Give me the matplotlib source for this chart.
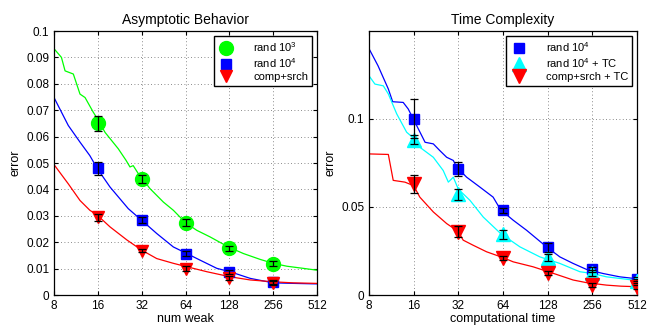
import numpy as np
import matplotlib
matplotlib.use('Agg')
import matplotlib.pyplot as plt

plt.rcParams['font.family'] = ['Liberation Sans', 'DejaVu Sans']
plt.rcParams['mathtext.fontset'] = 'custom'
plt.rcParams['mathtext.rm'] = 'Liberation Sans'
plt.rcParams['mathtext.it'] = 'Liberation Sans'

# ---- left panel: error vs number of weak learners ----
l_green_x = [8, 9.0, 9.53, 10.86, 12.07, 13.07, 14.9, 16, 17.93, 22.1, 25.0, 26.6,
             28.0, 30.4, 32, 36.5, 45.1, 52.8, 64, 76.5, 94.4, 126, 160, 208, 256,
             318, 411, 512]
l_green_y = [0.0933, 0.0900, 0.0849, 0.0837, 0.0761, 0.0748, 0.0692, 0.0665, 0.0616,
             0.0554, 0.0510, 0.0485, 0.0490, 0.0459, 0.0444, 0.0403, 0.0352, 0.0321,
             0.0274, 0.0245, 0.0220, 0.0182, 0.0157, 0.0135, 0.0120, 0.0109, 0.0101,
             0.0094]
l_blue_x = [8, 10.03, 12.07, 14.1, 15.9, 19.4, 25.9, 32, 40.6, 52.8, 65.4, 80.6,
            105, 129.6, 178, 256, 351, 512]
l_blue_y = [0.0748, 0.0642, 0.0579, 0.0528, 0.0478, 0.0409, 0.0327, 0.0283, 0.0233,
            0.0182, 0.0157, 0.0132, 0.0101, 0.0088, 0.0063, 0.0046, 0.0044, 0.0042]
l_red_x = [8, 10.03, 12.07, 14.1, 15.9, 19.4, 25.4, 32, 40.6, 52.8, 65.4, 90,
           129.6, 178, 256, 351, 512]
l_red_y = [0.0494, 0.0421, 0.0358, 0.0321, 0.0302, 0.0258, 0.0208, 0.0170, 0.0138,
           0.0120, 0.0107, 0.0088, 0.0069, 0.0057, 0.0050, 0.0046, 0.0044]

l_mark_x = [16, 32, 64, 128, 256]
l_green_m = [0.065, 0.044, 0.0273, 0.0177, 0.0118]
l_green_e = [0.0028, 0.0015, 0.0013, 0.0009, 0.0009]
l_blue_m = [0.048, 0.0285, 0.0157, 0.0087, 0.0050]
l_blue_e = [0.0025, 0.0012, 0.0010, 0.0009, 0.0008]
l_red_m = [0.0295, 0.0168, 0.0100, 0.0063, 0.0045]
l_red_e = [0.0013, 0.0007, 0.0008, 0.0008, 0.0008]

# ---- right panel: error vs computational time ----
r_blue_x = [8, 9.2, 10.8, 11.55, 13.6, 14.7, 17.2, 19.1, 21.7, 24.0, 26.7, 29.6,
            31.2, 36.4, 44.7, 54.9, 61.6, 75, 92.3, 125.8, 154.7, 190, 234, 302,
            392, 512]
r_blue_y = [0.1397, 0.1300, 0.1168, 0.1096, 0.1092, 0.1055, 0.0942, 0.0866, 0.0857,
            0.0819, 0.0781, 0.0763, 0.0725, 0.0668, 0.0612, 0.0555, 0.0484, 0.0424,
            0.0367, 0.0273, 0.0216, 0.0179, 0.0145, 0.0122, 0.0103, 0.0092]
r_cyan_x = [8, 8.77, 9.99, 10.8, 12.3, 14.35, 16, 17.6, 21.7, 25.3, 27.4, 29.6,
            32, 38.3, 47.1, 61.6, 83.2, 113.5, 154.7, 210.9, 256, 319, 512]
r_cyan_y = [0.1243, 0.1196, 0.1186, 0.1140, 0.1027, 0.0923, 0.0889, 0.0838, 0.0781,
            0.0706, 0.0640, 0.0668, 0.0600, 0.0537, 0.0442, 0.0349, 0.0273, 0.0216,
            0.0179, 0.0132, 0.0122, 0.0103, 0.0082]
r_red_x = [8, 10.8, 11.65, 13.97, 16, 17.6, 21.7, 26.7, 32, 34.5, 40.3, 49.6,
           64, 75, 102, 139.4, 190, 234, 319, 400, 512]
r_red_y = [0.0800, 0.0797, 0.0650, 0.0640, 0.0620, 0.0555, 0.0471, 0.0405, 0.0360,
           0.0311, 0.0282, 0.0245, 0.0212, 0.0188, 0.0160, 0.0123, 0.0085, 0.0070,
           0.0056, 0.0050, 0.0047]

r_mark_x = [16, 32, 64, 128, 256, 512]
r_blue_m = [0.100, 0.0715, 0.048, 0.027, 0.0145, 0.0092]
r_blue_e = [0.011, 0.004, 0.0015, 0.0025, 0.0015, 0.001]
r_cyan_m = [0.088, 0.057, 0.0345, 0.021, 0.0125, 0.008]
r_cyan_e = [0.0025, 0.003, 0.0025, 0.002, 0.0015, 0.001]
r_red_m = [0.063, 0.036, 0.021, 0.0125, 0.0058, 0.0045]
r_red_e = [0.005, 0.003, 0.001, 0.001, 0.001, 0.001]

xticks = [8, 16, 32, 64, 128, 256, 512]

fig = plt.figure(figsize=(6.49, 3.26), dpi=100)
ax1 = fig.add_axes([54 / 649, 31 / 326, 263 / 649, 264 / 326])
ax2 = fig.add_axes([369 / 649, 31 / 326, 268 / 649, 264 / 326])


def style(ax):
    ax.set_xscale('log', base=2)
    ax.set_xlim(8, 512)
    ax.set_xticks(xticks)
    ax.set_xticklabels([str(t) for t in xticks])
    ax.minorticks_off()
    ax.grid(True, linestyle=(0, (1, 3)), color='#666666', linewidth=0.6)
    ax.tick_params(direction='in', top=True, right=True, labelsize=8.5, length=3)
    for s in ax.spines.values():
        s.set_linewidth(0.9)


def marks(ax, x, y, e, color, marker, ms, label):
    ax.plot(x, y, linestyle='none', marker=marker, color=color, markersize=ms,
            markeredgecolor=color, label=label, zorder=3)
    ax.errorbar(x, y, yerr=e, fmt='none', ecolor='black', elinewidth=0.9,
                capsize=3, capthick=0.9, zorder=4)


def legend(ax):
    ax.legend(loc='upper right', fontsize=8, frameon=True, fancybox=False,
              edgecolor='black', handlelength=1.6, borderpad=0.35,
              labelspacing=0.2, handletextpad=1.6, borderaxespad=0.45,
              framealpha=1)


# left
ax1.plot(l_green_x, l_green_y, color='#00ff00', lw=0.9)
ax1.plot(l_blue_x, l_blue_y, color='#0000ff', lw=0.9)
ax1.plot(l_red_x, l_red_y, color='#ff0000', lw=0.9)
marks(ax1, l_mark_x, l_green_m, l_green_e, '#00ff00', 'o', 10, 'rand 10$^3$')
marks(ax1, l_mark_x, l_blue_m, l_blue_e, '#0000ff', 's', 6.5, 'rand 10$^4$')
marks(ax1, l_mark_x, l_red_m, l_red_e, '#ff0000', 'v', 8, 'comp+srch')
style(ax1)
ax1.set_ylim(0, 0.1)
ax1.set_yticks(np.arange(0, 0.101, 0.01))
ax1.set_yticklabels(['0', '0.01', '0.02', '0.03', '0.04', '0.05', '0.06',
                     '0.07', '0.08', '0.09', '0.1'])
ax1.set_title('Asymptotic Behavior', fontsize=10, pad=5)
ax1.set_xlabel('num weak', fontsize=9, labelpad=1)
ax1.set_ylabel('error', fontsize=9, labelpad=3)
legend(ax1)

# right
ax2.plot(r_blue_x, r_blue_y, color='#0000ff', lw=0.9)
ax2.plot(r_cyan_x, r_cyan_y, color='#00ffff', lw=0.9)
ax2.plot(r_red_x, r_red_y, color='#ff0000', lw=0.9)
marks(ax2, r_mark_x, r_blue_m, r_blue_e, '#0000ff', 's', 7.5, 'rand 10$^4$')
marks(ax2, r_mark_x, r_cyan_m, r_cyan_e, '#00ffff', '^', 10, 'rand 10$^4$ + TC')
marks(ax2, r_mark_x, r_red_m, r_red_e, '#ff0000', 'v', 10.5, 'comp+srch + TC')
style(ax2)
ax2.set_ylim(0, 0.1497)
ax2.set_yticks([0, 0.05, 0.1])
ax2.set_yticklabels(['0', '0.05', '0.1'])
ax2.set_title('Time Complexity', fontsize=10, pad=5)
ax2.set_xlabel('computational time', fontsize=9, labelpad=1)
ax2.set_ylabel('error', fontsize=9, labelpad=3)
legend(ax2)

fig.savefig('out.png', dpi=100)
